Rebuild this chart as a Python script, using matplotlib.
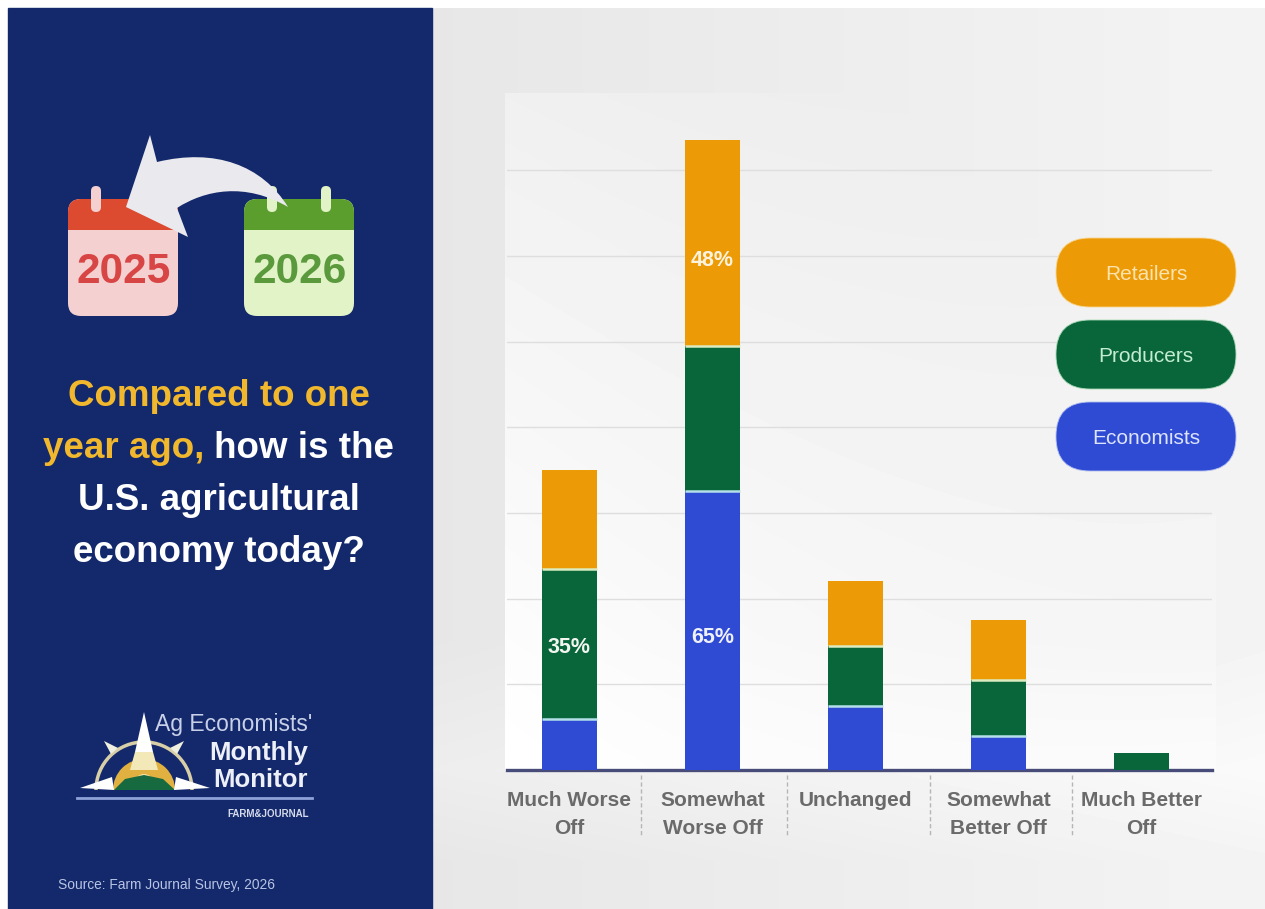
import numpy as np
import matplotlib
matplotlib.use("Agg")
import matplotlib.pyplot as plt
from matplotlib.patches import FancyBboxPatch, PathPatch, Polygon, Rectangle, Wedge, Arc
from matplotlib.path import Path

categories = ["Much Worse\nOff", "Somewhat\nWorse Off", "Unchanged", "Somewhat\nBetter Off", "Much Better\nOff"]
economists = [12, 65, 15, 8, 0]
producers = [35, 34, 14, 13, 4]
retailers = [23, 48, 15, 14, 0]
grid_ticks = [20, 40, 60, 80, 100, 120, 140]
legend_names = ["Retailers", "Producers", "Economists"]

NAVY = "#14296c"
ORANGE = "#ec9a06"
GREEN = "#08663a"
BLUE = "#2f4bd3"
W, H = 1265, 909

plt.rcParams["font.family"] = ["Liberation Sans", "DejaVu Sans"]

fig = plt.figure(figsize=(W / 100, H / 100), dpi=100, facecolor="white")

# whole figure in pixel coordinates, for the panel and the artwork
bg = fig.add_axes([0, 0, 1, 1], zorder=0)
bg.axis("off")

# grey backdrop; the plot area fades into it towards the top right
xx, yy = np.meshgrid(np.arange(432, W), np.arange(8, H))
shade = 0.905 + 0.05 * (xx - 432) / 833.0
shade = shade + 0.025 * np.clip((860 - yy) / 90.0, 0, 1) * np.clip((yy - 640) / 130.0, 0, 1)
t = 0.65 * (xx - 505) / 710.0 + 0.65 * (770 - yy) / 677.0
inner = (xx >= 505) & (xx <= 1215) & (yy >= 93) & (yy <= 770)
shade[inner] = (shade + (1.0 - shade) * (1 - np.clip(t, 0, 1)))[inner]
bg.imshow(shade, cmap="gray", vmin=0, vmax=1, extent=(432, W, H, 8), aspect="auto", zorder=0)
bg.set_xlim(0, W)
bg.set_ylim(H, 0)
bg.add_patch(Rectangle((8, 8), 424, H - 8, color=NAVY, zorder=1))


def calendar(x, head, body, text_col, label, rings):
    card = FancyBboxPatch((x, 199), 110, 117, boxstyle="round,pad=0,rounding_size=13", fc=body, ec="none", zorder=2)
    bg.add_patch(card)
    top = Rectangle((x, 199), 110, 31, fc=head, ec="none", zorder=3)
    bg.add_patch(top)
    top.set_clip_path(card)
    for r in rings:
        ring = FancyBboxPatch((r - 5, 186), 10, 26, boxstyle="round,pad=0,rounding_size=5", fc=body, ec="none", zorder=4)
        bg.add_patch(ring)
    bg.text(x + 56, 272, label, color=text_col, fontsize=30.5, fontweight="bold", ha="center", va="center", zorder=4)


calendar(68, "#dc4a30", "#f5d0d0", "#d84545", "2025", [96, 150])
calendar(244, "#5c9e2e", "#e2f3c8", "#5a9a3c", "2026", [272, 326])

# big curved arrow from 2026 back to 2025
arrow_verts = [(288, 207), (262, 165), (215, 148), (157, 162), (150, 135), (126, 207), (188, 237), (177, 208),
               (205, 190), (245, 182), (288, 207)]
arrow_codes = [Path.MOVETO, Path.CURVE4, Path.CURVE4, Path.CURVE4, Path.LINETO, Path.LINETO, Path.LINETO, Path.LINETO,
               Path.CURVE4, Path.CURVE4, Path.CURVE4]
bg.add_patch(PathPatch(Path(arrow_verts, arrow_codes), fc="#e9e9ee", ec="none", zorder=5))

YELLOW = "#f1b82d"
title_kw = dict(fontsize=26.5, fontweight="bold", va="center")
bg.text(219, 396, "Compared to one", color=YELLOW, ha="center", zorder=3, **title_kw)
bg.text(43, 448, "year ago,", color=YELLOW, ha="left", zorder=3, **title_kw)
bg.text(394, 448, "how is the", color="white", ha="right", zorder=3, **title_kw)
bg.text(219, 500, "U.S. agricultural", color="white", ha="center", zorder=3, **title_kw)
bg.text(219, 552, "economy today?", color="white", ha="center", zorder=3, **title_kw)

# logo
cx, cy = 144, 790
bg.add_patch(Arc((cx, cy), 96, 96, theta1=180, theta2=360, color="#d8cfa8", lw=2.5, zorder=3))
bg.add_patch(Wedge((cx, cy), 31, 180, 360, fc="#e0b040", ec="none", zorder=3))
bg.add_patch(Wedge((cx, cy - 7), 9, 180, 360, fc="#f7e6a8", ec="none", zorder=4))
bg.add_patch(Polygon([(114, 790), (125, 779), (144, 775), (163, 779), (175, 790)], fc="#17693f", ec="none", zorder=4))
bg.add_patch(Polygon([(144, 712), (135, 752), (153, 752)], fc="white", ec="none", zorder=5))
bg.add_patch(Polygon([(135, 752), (153, 752), (158, 770), (130, 770)], fc="#f3e9b8", ec="none", zorder=3))
bg.add_patch(Polygon([(80, 788), (112, 777), (114, 790)], fc="white", ec="none", zorder=5))
bg.add_patch(Polygon([(210, 788), (176, 777), (174, 790)], fc="white", ec="none", zorder=5))
bg.add_patch(Polygon([(104, 741), (118, 748), (111, 754)], fc="#f0f0e0", ec="none", zorder=5))
bg.add_patch(Polygon([(184, 741), (170, 748), (177, 754)], fc="#f0f0e0", ec="none", zorder=5))
bg.text(155, 724, "Ag Economists'", color="#c8d0e8", fontsize=16.5, ha="left", va="center", zorder=3)
bg.text(308, 753, "Monthly", color="#eef0f8", fontsize=18.5, fontweight="bold", ha="right", va="center", zorder=3)
bg.text(308, 780, "Monitor", color="#eef0f8", fontsize=18.5, fontweight="bold", ha="right", va="center", zorder=3)
bg.plot([77, 312], [798, 798], color="#8fa3d8", lw=2, zorder=3)
bg.text(309, 814, "FARM&JOURNAL", color="#d5daea", fontsize=7, fontweight="bold", ha="right", va="center", zorder=3)
bg.text(58, 885, "Source: Farm Journal Survey, 2026", color="#b9c4e4", fontsize=9.9, ha="left", va="center", zorder=3)

# chart: 143 px between bars, 4.28 px per percentage point
ax = fig.add_axes([507 / W, (H - 770) / H, (1212 - 507) / W, (770 - 93) / H], zorder=1)
ax.patch.set_alpha(0)
x = np.arange(len(categories))
econ = np.array(economists)
prod = np.array(producers)
reta = np.array(retailers)
ax.bar(x, econ, width=0.385, color=BLUE, zorder=3)
ax.bar(x, prod, width=0.385, bottom=econ, color=GREEN, zorder=3)
ax.bar(x, reta, width=0.385, bottom=econ + prod, color=ORANGE, zorder=3)

# thin pale lines between the stacked segments
for i in x:
    if econ[i] and prod[i]:
        ax.plot([i - 0.1925, i + 0.1925], [econ[i], econ[i]], color="#b5e0ea", lw=1.8, zorder=4, solid_capstyle="butt")
    if prod[i] and reta[i]:
        ax.plot([i - 0.1925, i + 0.1925], [econ[i] + prod[i]] * 2, color="#dcebc0", lw=1.8, zorder=4, solid_capstyle="butt")

ax.set_xlim(-0.437, 4.493)
ax.set_ylim(0, 158)
ax.set_yticks(grid_ticks)
ax.set_yticklabels([])
ax.grid(axis="y", color="#dedede", lw=1)
ax.set_axisbelow(True)
ax.tick_params(axis="both", length=0)
ax.set_xticks(x)
ax.set_xticklabels(categories, fontsize=15, fontweight="bold", color="#6a6a6a", linespacing=1.59)
ax.tick_params(axis="x", pad=15.2)
for s in ["top", "left", "right"]:
    ax.spines[s].set_visible(False)
ax.spines["bottom"].set_color("#474c78")
ax.spines["bottom"].set_linewidth(2.4)

# percentage labels inside the segments
label_kw = dict(fontsize=15.5, fontweight="bold", ha="center", va="center", zorder=5)
ax.text(0, 28.5, "35%", color="#f2f5f0", **label_kw)
ax.text(1, 31, "65%", color="#eef0fa", **label_kw)
ax.text(1, 118.8, "48%", color="#fdf3dc", **label_kw)

# dashed separators under the axis
for sx in [641, 787, 930, 1072]:
    bg.plot([sx, sx], [775, 835], color="#b5b5b5", lw=1, ls=(0, (3, 2)), zorder=3)

# legend pills sit above the grid lines
top_ax = fig.add_axes([0, 0, 1, 1], zorder=2)
top_ax.set_xlim(0, W)
top_ax.set_ylim(H, 0)
top_ax.axis("off")
pill_tops = [238, 320, 402]
pill_cols = [ORANGE, GREEN, BLUE]
pill_edges = ["#f8d48c", "#a8d8b4", "#aebdf0"]
pill_text = ["#fbe3ae", "#c4ecd0", "#dde4fb"]
for name, top, col, edge, tc in zip(legend_names, pill_tops, pill_cols, pill_edges, pill_text):
    top_ax.add_patch(FancyBboxPatch((1056, top), 180, 69, boxstyle="round,pad=0,rounding_size=34", fc=col, ec=edge, lw=0.6, zorder=3))
    top_ax.text(1146, top + 37, name, color=tc, fontsize=15, ha="center", va="center", zorder=4)

fig.savefig("out.png", dpi=100)
